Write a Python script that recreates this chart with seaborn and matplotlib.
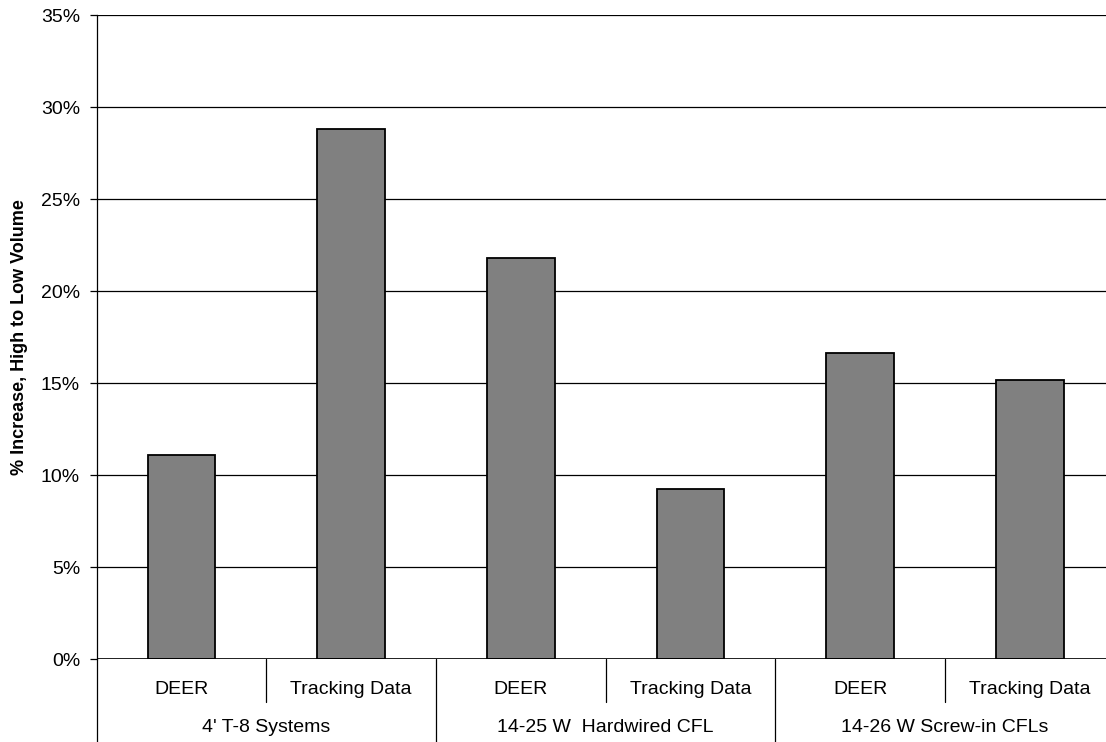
import matplotlib
matplotlib.use("Agg")
import matplotlib.pyplot as plt
import matplotlib.transforms as mtransforms
from matplotlib.ticker import FuncFormatter
import pandas as pd
import seaborn as sns

# Percent increase in hours of use, high- vs. low-volume
groups = ["4' T-8 Systems", "14-25 W  Hardwired CFL", "14-26 W Screw-in CFLs"]
sources = ["DEER", "Tracking Data"]
deer_values = [11.09, 21.81, 16.65]
tracking_values = [28.79, 9.24, 15.16]
y_ticks = [0, 5, 10, 15, 20, 25, 30, 35]

rows = []
for g, d, t in zip(groups, deer_values, tracking_values):
    rows.append({"group": g, "source": sources[0], "value": d})
    rows.append({"group": g, "source": sources[1], "value": t})
df = pd.DataFrame(rows)
df["slot"] = [f"{r.group}|{r.source}" for r in df.itertuples()]

sns.set_theme(style="white")
plt.rcParams["font.family"] = ["Liberation Sans", "DejaVu Sans"]

W, H = 1106, 742
fig = plt.figure(figsize=(W / 100, H / 100), dpi=100)
left, right, top, bottom = 96.7, 1114.7, 15, 659
ax = fig.add_axes([left / W, 1 - bottom / H, (right - left) / W, (bottom - top) / H])

sns.barplot(data=df, x="slot", y="value", order=list(df["slot"]),
            color="#808080", saturation=1, width=0.4,
            edgecolor="black", linewidth=1.3, ax=ax, zorder=3)

ax.set_ylim(0, 35)
ax.set_xlim(-0.5, len(df) - 0.5)
ax.set_yticks(y_ticks)
ax.yaxis.set_major_formatter(FuncFormatter(lambda v, p: f"{v:.0f}%"))
ax.grid(axis="y", color="black", linewidth=0.9, zorder=0)
ax.grid(axis="x", visible=False)
ax.tick_params(axis="y", which="major", left=True, length=5, width=0.9,
               color="black", labelsize=14, pad=7, labelcolor="black")
ax.set_xticks([])
ax.set_xlabel("")
ax.set_ylabel("% Increase, High to Low Volume", fontsize=13, fontweight="bold",
              color="black", labelpad=9)

for s in ["top", "right", "bottom"]:
    ax.spines[s].set_visible(False)
ax.spines["left"].set_color("black")
ax.spines["left"].set_linewidth(0.9)

# Category axis: baseline, separators and two-level labels below the plot
trans = mtransforms.blended_transform_factory(ax.transData, ax.transAxes)
ax.axhline(0, color="black", linewidth=1.2, zorder=4)
ax.plot([-0.5, -0.5], [0, -0.2], transform=trans, color="black",
        linewidth=0.9, clip_on=False)
short_drop = -(702 - bottom) / (bottom - top)
for i in range(len(df)):
    boundary = i + 0.5
    end = -0.2 if (i + 1) % 2 == 0 else short_drop
    ax.plot([boundary, boundary], [0, end], transform=trans,
            color="black", linewidth=0.9, clip_on=False)

sub_y = -(689 - bottom) / (bottom - top)
grp_y = -(727 - bottom) / (bottom - top)
for i, r in enumerate(df.itertuples()):
    ax.text(i, sub_y, r.source, transform=trans, ha="center", va="center",
            fontsize=14, color="black")
for gi, g in enumerate(groups):
    ax.text(2 * gi + 0.5, grp_y, g, transform=trans, ha="center", va="center",
            fontsize=14, color="black")

fig.savefig("out.png", dpi=100)
